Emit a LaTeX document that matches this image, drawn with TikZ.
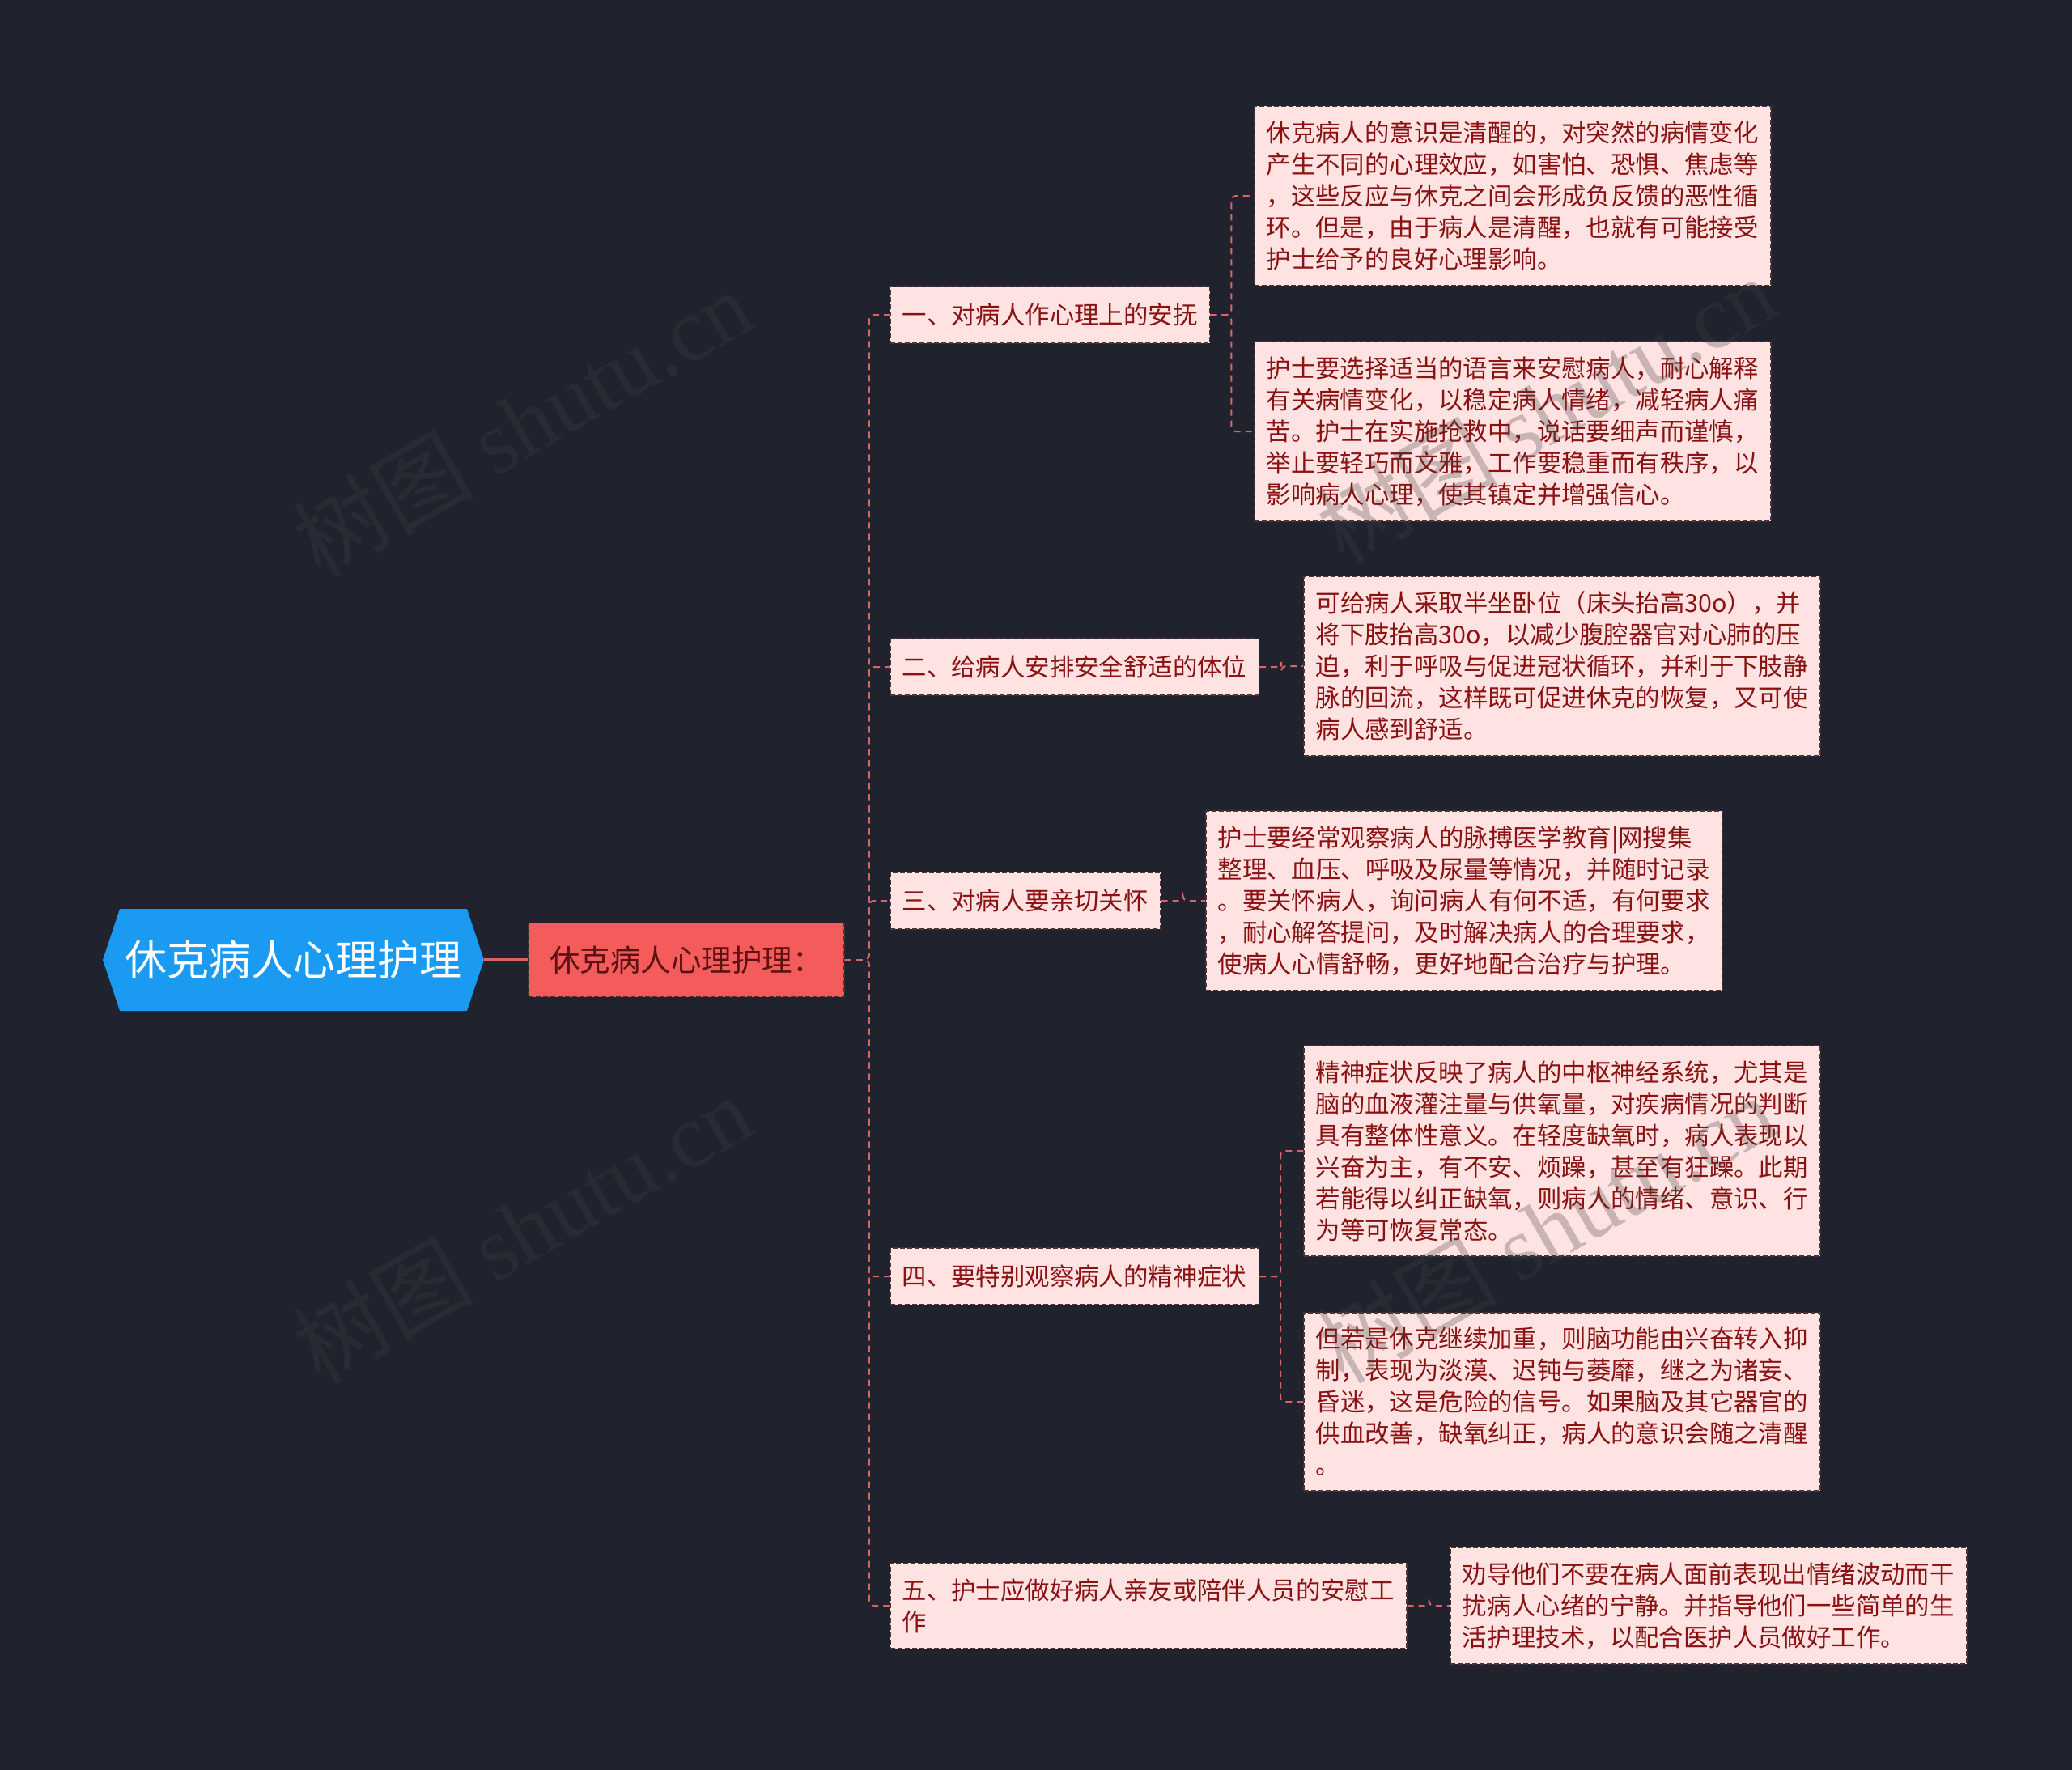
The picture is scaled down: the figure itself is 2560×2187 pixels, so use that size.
\documentclass[tikz,border=0pt]{standalone}
\usepackage{fontspec}
\setmainfont{Noto Sans CJK SC}
\newfontfamily\wmfont{Liberation Serif}
\usetikzlibrary{shapes.symbols}
\definecolor{bgnavy}{HTML}{20232E}
\definecolor{rootblue}{HTML}{1A9AF0}
\definecolor{subred}{HTML}{F45C5C}
\definecolor{subtext}{HTML}{5C1212}
\definecolor{leafpink}{HTML}{FFE2E2}
\definecolor{leaftext}{HTML}{8B1212}
\definecolor{edgered}{HTML}{D96464}
\definecolor{boxline}{HTML}{4A3535}
\definecolor{wmgray}{HTML}{404040}

\tikzset{
  rootnode/.style={signal, signal to=west and east, signal pointer angle=143,
    fill=rootblue, text=white, font=\fontsize{52}{60}\selectfont,
    minimum width=471pt, minimum height=126pt, inner sep=0pt},
  subnode/.style={draw=boxline, dash pattern=on 6pt off 3pt, line width=1.5pt,
    fill=subred, text=subtext, font=\fontsize{37.5}{44}\selectfont,
    minimum width=390pt, minimum height=91pt},
  topic/.style={draw=boxline, dash pattern=on 6pt off 3pt, line width=1.5pt,
    fill=leafpink, text=leaftext, font=\fontsize{30.4}{39}\selectfont,
    inner xsep=15pt, inner ysep=19pt, minimum height=70pt, align=left, anchor=west},
  detail/.style={topic, text width=608pt, inner ysep=18.5pt},
  link/.style={edgered, line width=2pt, dash pattern=on 8pt off 6pt, rounded corners=6pt},
  wmark/.style={text=wmgray, opacity=0.28, rotate=30, font=\fontsize{112}{116}\selectfont},
}

\begin{document}
\begin{tikzpicture}[x=1pt, y=-1pt]
  \fill[bgnavy] (0,0) rectangle (2560,2187);
  \useasboundingbox (0,0) rectangle (2560,2187);

  % centre and first branch
  \node[rootnode] (root) at (362.5,1186) {休克病人心理护理};
  \node[subnode] (sub) at (848,1186) {休克病人心理护理：};

  % five headings
  \node[topic] (t1) at (1099,389) {一、对病人作心理上的安抚};
  \node[topic] (t2) at (1099,824) {二、给病人安排安全舒适的体位};
  \node[topic] (t3) at (1099,1113) {三、对病人要亲切关怀};
  \node[topic] (t4) at (1099,1577) {四、要特别观察病人的精神症状};
  \node[topic] (t5) at (1099,1984) {五、护士应做好病人亲友或陪伴人员的安慰工\\作};

  % details
  \node[detail] (d1a) at (1549,242) {休克病人的意识是清醒的，对突然的病情变化\\产生不同的心理效应，如害怕、恐惧、焦虑等\\，这些反应与休克之间会形成负反馈的恶性循\\环。但是，由于病人是清醒，也就有可能接受\\护士给予的良好心理影响。};
  \node[detail] (d1b) at (1549,533) {护士要选择适当的语言来安慰病人，耐心解释\\有关病情变化，以稳定病人情绪，减轻病人痛\\苦。护士在实施抢救中，说话要细声而谨慎，\\举止要轻巧而文雅，工作要稳重而有秩序，以\\影响病人心理，使其镇定并增强信心。};
  \node[detail] (d2) at (1610,823) {可给病人采取半坐卧位（床头抬高30o），并\\将下肢抬高30o，以减少腹腔器官对心肺的压\\迫，利于呼吸与促进冠状循环，并利于下肢静\\脉的回流，这样既可促进休克的恢复，又可使\\病人感到舒适。};
  \node[detail] (d3) at (1489,1113) {护士要经常观察病人的脉搏医学教育|网搜集\\整理、血压、呼吸及尿量等情况，并随时记录\\。要关怀病人，询问病人有何不适，有何要求\\，耐心解答提问，及时解决病人的合理要求，\\使病人心情舒畅，更好地配合治疗与护理。};
  \node[detail] (d4a) at (1610,1422) {精神症状反映了病人的中枢神经系统，尤其是\\脑的血液灌注量与供氧量，对疾病情况的判断\\具有整体性意义。在轻度缺氧时，病人表现以\\兴奋为主，有不安、烦躁，甚至有狂躁。此期\\若能得以纠正缺氧，则病人的情绪、意识、行\\为等可恢复常态。};
  \node[detail] (d4b) at (1610,1732) {但若是休克继续加重，则脑功能由兴奋转入抑\\制，表现为淡漠、迟钝与萎靡，继之为诸妄、\\昏迷，这是危险的信号。如果脑及其它器官的\\供血改善，缺氧纠正，病人的意识会随之清醒\\。};
  \node[detail] (d5) at (1791,1984) {劝导他们不要在病人面前表现出情绪波动而干\\扰病人心绪的宁静。并指导他们一些简单的生\\活护理技术，以配合医护人员做好工作。};

  % connectors
  \draw[edgered, line width=4pt] (root.east) -- (sub.west);
  \foreach \t in {t1,t2,t3,t4,t5}
    \draw[link] (sub.east) -- ++(30,0) |- (\t.west);
  \draw[link] (t1.east) -- ++(26,0) |- (d1a.west);
  \draw[link] (t1.east) -- ++(26,0) |- (d1b.west);
  \draw[link] (t2.east) -- ++(27,0) |- (d2.west);
  \draw[link] (t3.east) -- ++(27,0) |- (d3.west);
  \draw[link] (t4.east) -- ++(26,0) |- (d4a.west);
  \draw[link] (t4.east) -- ++(26,0) |- (d4b.west);
  \draw[link] (t5.east) -- ++(27,0) |- (d5.west);

  % watermarks
  \node[wmark] (wm1) at (645,522) {树图 {\wmfont shutu.cn}};
  \node[wmark] (wm2) at (645,1518) {树图 {\wmfont shutu.cn}};
  \node[wmark] (wm3) at (1910,506) {树图 {\wmfont shutu.cn}};
  \node[wmark] (wm4) at (1910,1518) {树图 {\wmfont shutu.cn}};
\end{tikzpicture}
\end{document}
